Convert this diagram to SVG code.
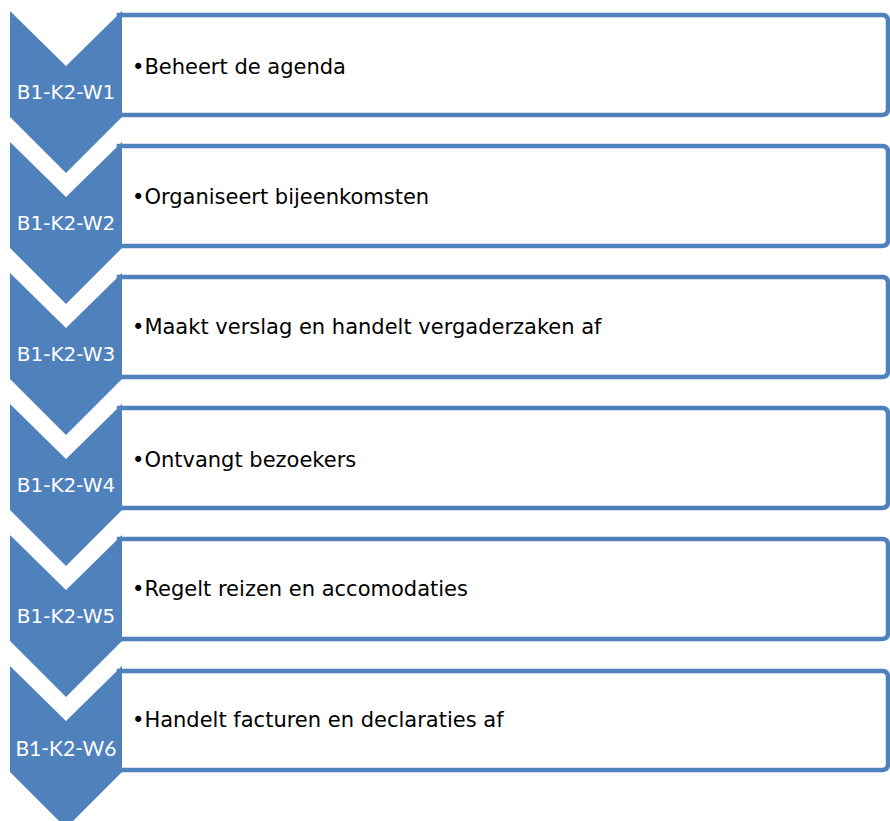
<svg xmlns="http://www.w3.org/2000/svg" width="890" height="821" viewBox="0 0 890 821">
<style>
.box{fill:#ffffff;stroke:#4f81bd;stroke-width:4.5}
.chev{fill:#4f81bd}
.lbl{font-family:"DejaVu Sans",sans-serif;font-size:20px;fill:#ffffff;text-anchor:middle}
.lbl6{font-family:Lato,"Open Sans",sans-serif;font-size:21px;fill:#ffffff;text-anchor:middle}
.txt{font-family:"DejaVu Sans",sans-serif;font-size:21px;fill:#000000}
</style>
<rect width="890" height="821" fill="#ffffff"/>
<g id="connectors"/>
<g id="node1">
<path class="box" d="M119,15 H882 Q888,15 888,21 V109 Q888,115 882,115 H119 Z"/>
<path class="chev" d="M10,11 L66,66 L122,11 V117 L66,173 L10,117 Z"/>
<text class="lbl" x="66" y="99">B1-K2-W1</text>
<text class="txt" x="132" y="74">•Beheert de agenda</text>
</g>
<g id="node2">
<path class="box" d="M119,146 H882 Q888,146 888,152 V240 Q888,246 882,246 H119 Z"/>
<path class="chev" d="M10,142 L66,197 L122,142 V248 L66,304 L10,248 Z"/>
<text class="lbl" x="66" y="230">B1-K2-W2</text>
<text class="txt" x="132" y="204">•Organiseert bijeenkomsten</text>
</g>
<g id="node3">
<path class="box" d="M119,277 H882 Q888,277 888,283 V371 Q888,377 882,377 H119 Z"/>
<path class="chev" d="M10,273 L66,328 L122,273 V379 L66,435 L10,379 Z"/>
<text class="lbl" x="66" y="361">B1-K2-W3</text>
<text class="txt" x="132" y="334">•Maakt verslag en handelt vergaderzaken af</text>
</g>
<g id="node4">
<path class="box" d="M119,408 H882 Q888,408 888,414 V502 Q888,508 882,508 H119 Z"/>
<path class="chev" d="M10,404 L66,459 L122,404 V510 L66,566 L10,510 Z"/>
<text class="lbl" x="66" y="492">B1-K2-W4</text>
<text class="txt" x="132" y="467">•Ontvangt bezoekers</text>
</g>
<g id="node5">
<path class="box" d="M119,539 H882 Q888,539 888,545 V633 Q888,639 882,639 H119 Z"/>
<path class="chev" d="M10,535 L66,590 L122,535 V641 L66,697 L10,641 Z"/>
<text class="lbl" x="66" y="623">B1-K2-W5</text>
<text class="txt" x="132" y="596">•Regelt reizen en accomodaties</text>
</g>
<g id="node6">
<path class="box" d="M119,671 H882 Q888,671 888,677 V764 Q888,770 882,770 H119 Z"/>
<path class="chev" d="M10,666 L66,721 L122,666 V772 L66,828 L10,772 Z"/>
<text class="lbl6" x="66" y="756">B1-K2-W6</text>
<text class="txt" x="132" y="727">•Handelt facturen en declaraties af</text>
</g>
</svg>
